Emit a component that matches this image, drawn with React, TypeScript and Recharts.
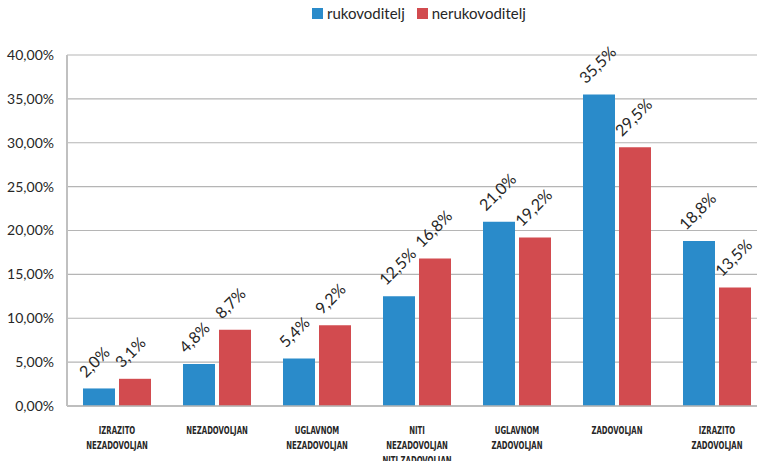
import React from "react";
import {
  BarChart,
  Bar,
  XAxis,
  YAxis,
  CartesianGrid,
  Legend,
} from "recharts";

const categories = [
  "IZRAZITO\nNEZADOVOLJAN",
  "NEZADOVOLJAN",
  "UGLAVNOM\nNEZADOVOLJAN",
  "NITI\nNEZADOVOLJAN\nNITI ZADOVOLJAN",
  "UGLAVNOM\nZADOVOLJAN",
  "ZADOVOLJAN",
  "IZRAZITO\nZADOVOLJAN",
];
const rukovoditelj = [2.0, 4.8, 5.4, 12.5, 21.0, 35.5, 18.8];
const nerukovoditelj = [3.1, 8.7, 9.2, 16.8, 19.2, 29.5, 13.5];
const yTicks = [0, 5, 10, 15, 20, 25, 30, 35, 40];

const BLUE = "#2a8bca";
const RED = "#d24b4f";
const TEXT = "#262626";

const data = categories.map((name, i) => ({
  name,
  rukovoditelj: rukovoditelj[i],
  nerukovoditelj: nerukovoditelj[i],
}));

const fmtPct = (v: number, digits: number) => v.toFixed(digits).replace(".", ",") + "%";

// multi-line category names, squeezed horizontally to a condensed look
function CategoryTick(props: any) {
  const { x, y, payload } = props;
  const lines = String(payload.value).split("\n");
  return (
    <g transform={`translate(${x},${y})`}>
      {lines.map((line: string, i: number) => (
        <text
          key={i}
          x={0}
          y={20 + i * 15}
          transform="scale(0.7,1)"
          textAnchor="middle"
          fill={TEXT}
          fontSize={11}
          fontWeight="bold"
          fontFamily="'DejaVu Sans Condensed', 'DejaVu Sans', sans-serif"
        >
          {line}
        </text>
      ))}
    </g>
  );
}

function RotatedLabel(props: any) {
  const { x, y, value } = props;
  const ax = x + 3;
  const ay = y - 10;
  return (
    <text
      x={ax}
      y={ay}
      transform={`rotate(-45 ${ax} ${ay})`}
      fill={TEXT}
      fontSize={16}
      fontFamily="Lato, sans-serif"
    >
      {fmtPct(value, 1)}
    </text>
  );
}

function LegendContent() {
  const items = [
    { label: "rukovoditelj", color: BLUE },
    { label: "nerukovoditelj", color: RED },
  ];
  return (
    <div
      style={{
        display: "flex",
        paddingLeft: 312,
        fontFamily: "Lato, sans-serif",
        fontSize: 15,
        color: TEXT,
      }}
    >
      {items.map((it) => (
        <div key={it.label} style={{ display: "flex", alignItems: "center", marginRight: 12 }}>
          <span
            style={{
              display: "inline-block",
              width: 11,
              height: 11,
              background: it.color,
              marginRight: 4,
            }}
          />
          {it.label}
        </div>
      ))}
    </div>
  );
}

export default function App() {
  return (
    <div
      style={{
        position: "absolute",
        left: 0,
        top: 0,
        width: 757,
        height: 461,
        overflow: "hidden",
        background: "#fff",
      }}
    >
      <BarChart
        width={767}
        height={461}
        data={data}
        margin={{ top: 55, right: 0, bottom: 0, left: 0 }}
        barSize={32}
        barGap={4}
      >
        <CartesianGrid vertical={false} stroke="#b5b5b5" strokeWidth={1.2} />
        <XAxis
          dataKey="name"
          height={55}
          interval={0}
          tickLine={false}
          axisLine={{ stroke: "#b5b5b5", strokeWidth: 1.5 }}
          tick={<CategoryTick />}
        />
        <YAxis
          width={67}
          domain={[0, 40]}
          ticks={yTicks}
          tickLine={false}
          axisLine={{ stroke: "#c0c0c0", strokeWidth: 2 }}
          tickMargin={7}
          tickFormatter={(v: number) => fmtPct(v, 2)}
          tick={{ fill: TEXT, fontSize: 14, fontFamily: "Lato, sans-serif" }}
        />
        <Legend
          verticalAlign="middle"
          wrapperStyle={{ top: 4, left: 0, width: 757 }}
          content={<LegendContent />}
        />
        <Bar
          dataKey="rukovoditelj"
          fill={BLUE}
          isAnimationActive={false}
          label={<RotatedLabel />}
        />
        <Bar
          dataKey="nerukovoditelj"
          fill={RED}
          isAnimationActive={false}
          label={<RotatedLabel />}
        />
      </BarChart>
    </div>
  );
}
